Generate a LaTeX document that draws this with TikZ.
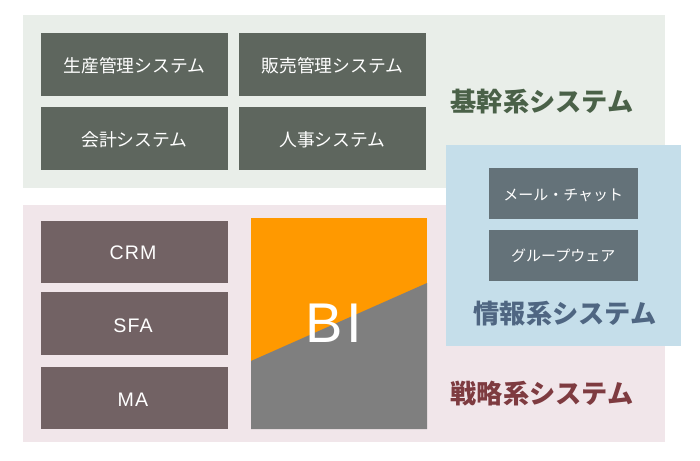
\documentclass[tikz,border=0pt]{standalone}
\usepackage{fontspec}
\setmainfont{Liberation Sans}[LetterSpace=6]
\newfontfamily\jp{Noto Sans CJK JP}
\newfontfamily\bi{Liberation Sans}[LetterSpace=7]
\definecolor{greenpanel}{HTML}{E9EEE9}
\definecolor{pinkpanel}{HTML}{F1E6EA}
\definecolor{bluepanel}{HTML}{C5DEEA}
\definecolor{greenbox}{HTML}{5E665E}
\definecolor{pinkbox}{HTML}{726264}
\definecolor{bluebox}{HTML}{647279}
\definecolor{greentitle}{HTML}{4A6148}
\definecolor{redtitle}{HTML}{7E3B40}
\definecolor{bluetitle}{HTML}{4F6682}
\definecolor{biorange}{HTML}{FF9900}
\definecolor{bigray}{HTML}{7F7F7F}
\tikzset{
  panelbox/.style={anchor=north west,inner sep=0pt,outer sep=0pt},
  sysbox/.style={panelbox,text=white,align=center,text depth=0pt,font=\jp\fontsize{17.8}{20}\selectfont},
  latinbox/.style={sysbox,fill=pinkbox,minimum width=187pt,minimum height=62.5pt,font=\fontsize{19.6}{20}\selectfont},
  greenitem/.style={sysbox,fill=greenbox,minimum width=187pt,minimum height=62.5pt,text height=15.6pt},
  blueitem/.style={sysbox,fill=bluebox,minimum width=148.5pt,minimum height=51.5pt,font=\jp\fontsize{15}{18}\selectfont},
  systitle/.style={inner sep=0pt,font=\jp\bfseries\fontsize{26.2}{30}\selectfont},
}
\begin{document}
\begin{tikzpicture}[x=1pt,y=-1pt]
\useasboundingbox (0,0) rectangle (700,460);
\fill[white] (0,0) rectangle (700,460);
\node[panelbox,fill=greenpanel,minimum width=642.5pt,minimum height=173pt] (green) at (22.5,15) {};
\node[panelbox,fill=pinkpanel,minimum width=642.5pt,minimum height=237.5pt] (pink) at (22.5,204.5) {};
\node[greenitem] (seisan) at (41,33) {生産管理システム};
\node[greenitem] (hanbai) at (239,33) {販売管理システム};
\node[greenitem] (kaikei) at (41,107) {会計システム};
\node[greenitem] (jinji) at (239,107) {人事システム};
\node[systitle,text=greentitle] (kikan) at (542,101.5) {基幹系システム};
\node[latinbox,text height=15pt] (crm) at (41,220.5) {\hspace{-3pt}CRM};
\node[latinbox,text height=19pt] (sfa) at (41,292) {\hspace{-3pt}SFA};
\node[latinbox,text height=16.6pt] (ma) at (41,366.5) {\hspace{-3pt}MA};
\fill[biorange] (251,218) rectangle (427,429);
\fill[bigray] (251,361) -- (427,283) -- (427,429) -- (251,429) -- cycle;
\node[inner sep=0pt,text=white,font=\bi\fontsize{56}{60}\selectfont] (bi) at (334,323) {BI};
\node[systitle,text=redtitle] (senryaku) at (542,394) {戦略系システム};
\node[panelbox,fill=bluepanel,minimum width=235pt,minimum height=201pt] (blue) at (446,145) {};
\node[blueitem,text height=14.4pt] (mail) at (489,167.5) {メール・チャット};
\node[blueitem,text height=12.4pt] (group) at (489,229.5) {グループウェア};
\node[systitle,text=bluetitle] (joho) at (565,313.5) {情報系システム};
\end{tikzpicture}
\end{document}
